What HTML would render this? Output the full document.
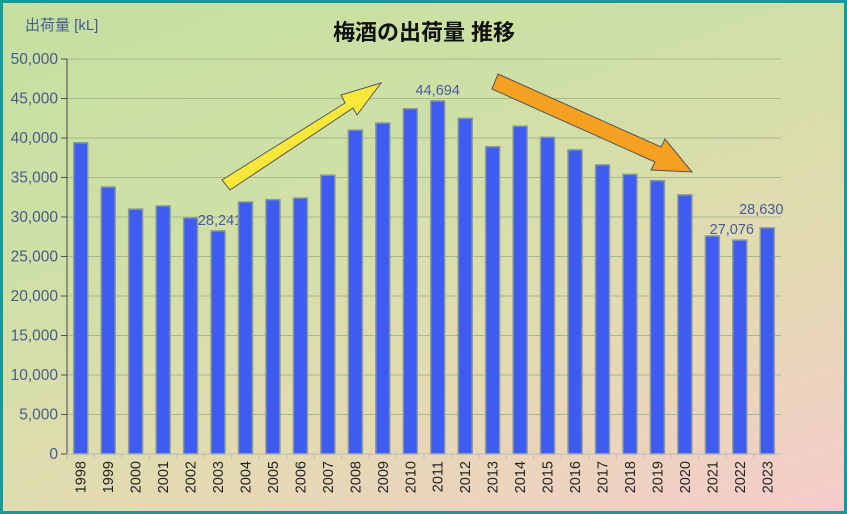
<!DOCTYPE html>
<html><head><meta charset="utf-8"><style>
html,body{margin:0;padding:0;}
body{width:847px;height:514px;overflow:hidden;font-family:"Liberation Sans","Noto Sans CJK JP",sans-serif;}
#frame{position:absolute;left:0;top:0;width:847px;height:514px;box-sizing:border-box;border:3px solid #15999a;
background:linear-gradient(160deg,#c4e0a0 0%,#cfe0a6 35%,#e2dbb0 65%,#f6cccc 100%);}
</style></head><body>
<div id="frame">
<svg id="chart" width="847" height="514" style="position:absolute;left:-3px;top:-3px"></svg>
</div>
<script>
const categories=["1998","1999","2000","2001","2002","2003","2004","2005","2006","2007","2008","2009","2010","2011","2012","2013","2014","2015","2016","2017","2018","2019","2020","2021","2022","2023"];
const values=[39400,33800,31000,31400,29900,28241,31900,32200,32400,35300,41000,41900,43700,44694,42500,38900,41500,40100,38500,36600,35400,34600,32800,27600,27076,28630];
const yTicks=[0,5000,10000,15000,20000,25000,30000,35000,40000,45000,50000];
const labeled=["2003","2011","2022","2023"];
const NS="http://www.w3.org/2000/svg";
const svg=document.getElementById('chart');
const x0=67,x1=781,yTop=59,yBot=454,yMax=50000;
const step=(x1-x0)/categories.length;
const xc=i=>x0+step*(i+0.5);
const y=v=>yBot-(v/yMax)*(yBot-yTop);
function mk(t,a,txt){const e=document.createElementNS(NS,t);for(const k in a)e.setAttribute(k,a[k]);if(txt!==undefined)e.textContent=txt;svg.appendChild(e);return e;}
const fmt=v=>v.toLocaleString('en-US');
yTicks.forEach(v=>{
 if(v>0){const g=mk('line',{x1:x0,x2:x1,y1:y(v),y2:y(v),stroke:'#a9b98f','stroke-width':1});
 
 }
 const tk=mk('line',{x1:x0-6,x2:x0,y1:y(v),y2:y(v),stroke:'#555','stroke-width':1});
 
 
 const t=mk('text',{x:x0-9,y:y(v)+5,'text-anchor':'end','font-size':15.5,fill:'#4a5a8a'},fmt(v));
 
 
});
categories.forEach((c,i)=>{
 const b=mk('rect',{x:xc(i)-7,y:y(values[i]),width:14,height:yBot-y(values[i]),fill:'#3f5cf2',stroke:'#8a9a9a','stroke-width':1.5});
 
 
 const tk=mk('line',{x1:x0+step*i,x2:x0+step*i,y1:yBot,y2:yBot+5,stroke:'#bbb'});
 
 
 const t=mk('text',{transform:`translate(${xc(i)+5},${yBot+7}) rotate(-90)`,'text-anchor':'end','font-size':14.5,fill:'#222'},c);
 
 
 if(labeled.includes(c)){
  const l=mk('text',{x:xc(i)+(c==='2003'?2:(c==='2022'?-8:(c==='2023'?-6:0))),y:y(values[i])-(c==='2023'?14:6),'text-anchor':'middle','font-size':14.5,fill:'#4a5a9a'},fmt(values[i]));
  
  
 }
});
const ax=mk('line',{x1:x0,x2:x0,y1:yTop,y2:yBot,stroke:'#444','stroke-width':1});


const bx=mk('line',{x1:x0,x2:x1,y1:yBot,y2:yBot,stroke:'#bbb','stroke-width':1});


const a1=mk('polygon',{points:'222,180 345,103 341,95 381,83 357,115 353,108 230,190',fill:'#f8e83a',stroke:'#555','stroke-width':1});


const a2=mk('polygon',{points:'498,74 661,147 665,139 692,172 651,170 655,162 492,89',fill:'#f4a020',stroke:'#555','stroke-width':1});


const ti=mk('text',{x:424,y:40,'text-anchor':'middle','font-size':22,'font-weight':'bold',fill:'#111'},'梅酒の出荷量 推移');


const yt=mk('text',{x:25,y:30,'font-size':15,fill:'#4a5a8a'},'出荷量 [kL]');


</script>
</body></html>
